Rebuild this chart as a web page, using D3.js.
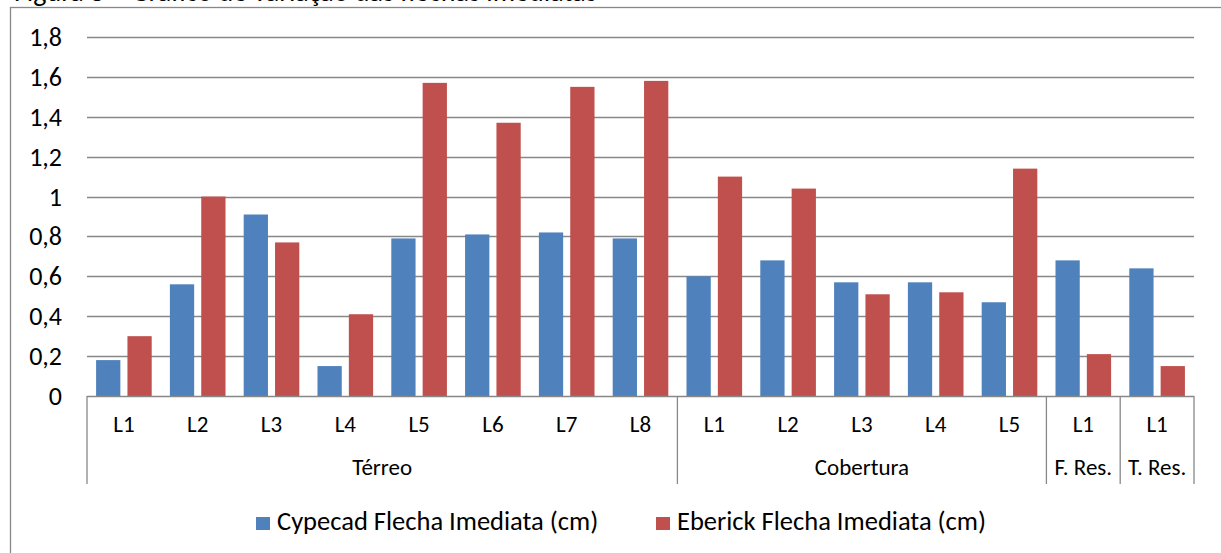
<!DOCTYPE html>
<html>
<head>
<meta charset="utf-8">
<script src="https://cdn.jsdelivr.net/npm/d3@7"></script>
<style>
  body { margin: 0; background: #fff; overflow: hidden; }
  svg text { font-family: Calibri, Carlito, Lato, sans-serif; fill: #000; }
</style>
</head>
<body>
<svg width="1221" height="553"></svg>
<script>
// Data
const labels = ["L1","L2","L3","L4","L5","L6","L7","L8","L1","L2","L3","L4","L5","L1","L1"];
const groups = [
  {name: "Térreo", count: 8},
  {name: "Cobertura", count: 5},
  {name: "F. Res.", count: 1},
  {name: "T. Res.", count: 1}
];
const cypecad = [0.18,0.56,0.91,0.15,0.79,0.81,0.82,0.79,0.60,0.68,0.57,0.57,0.47,0.68,0.64];
const eberick = [0.30,1.00,0.77,0.41,1.57,1.37,1.55,1.58,1.10,1.04,0.51,0.52,1.14,0.21,0.15];
const seriesNames = ["Cypecad Flecha Imediata (cm)", "Eberick Flecha Imediata (cm)"];
const colors = ["#4F81BD", "#C0504D"];
const yTicks = [0,0.2,0.4,0.6,0.8,1,1.2,1.4,1.6,1.8];

const svg = d3.select("svg");
const gridColor = "#888888";

// caption cut off at the top of the picture
svg.append("text")
  .attr("x", 14).attr("y", 1)
  .style("font-size", "28px")
  .text("Figura 8 – Gráfico de variação das flechas imediatas");

// chart frame (runs off the right and bottom edge)
svg.append("rect")
  .attr("x", 10.5).attr("y", 7.5)
  .attr("width", 1400).attr("height", 700)
  .attr("fill", "none").attr("stroke", gridColor).attr("stroke-width", 1.3);

const x = d3.scaleBand()
  .domain(d3.range(labels.length))
  .range([87, 1194])
  .padding(0);

const x1 = d3.scaleBand()
  .domain([0, 1])
  .range([0, x.bandwidth()])
  .paddingInner(0.226)
  .paddingOuter(0.29);

const y = d3.scaleLinear().domain([0, 1.8]).range([396, 37]);

const fmt = v => String(+v.toFixed(1)).replace(".", ",");

// gridlines
svg.append("g").selectAll("line")
  .data(yTicks.filter(t => t > 0))
  .enter().append("line")
  .attr("x1", 87).attr("x2", 1194)
  .attr("y1", d => Math.round(y(d)) + 0.5).attr("y2", d => Math.round(y(d)) + 0.5)
  .attr("stroke", gridColor).attr("stroke-width", 1.3);

// y tick labels
svg.append("g").selectAll("text")
  .data(yTicks)
  .enter().append("text")
  .attr("x", 62).attr("y", d => y(d) + 9)
  .attr("text-anchor", "end")
  .style("font-size", "26px")
  .text(fmt);

// bars
const seriesData = [cypecad, eberick];
seriesData.forEach((vals, s) => {
  svg.append("g").selectAll("rect")
    .data(vals)
    .enter().append("rect")
    .attr("x", (d, i) => x(i) + x1(s))
    .attr("width", x1.bandwidth())
    .attr("y", d => y(d))
    .attr("height", d => y(0) - y(d))
    .attr("fill", colors[s]);
});

// category axis line
svg.append("line")
  .attr("x1", 87).attr("x2", 1194)
  .attr("y1", 396.5).attr("y2", 396.5)
  .attr("stroke", gridColor).attr("stroke-width", 1.3);

// category labels
svg.append("g").selectAll("text")
  .data(labels)
  .enter().append("text")
  .attr("x", (d, i) => x(i) + x.bandwidth() / 2)
  .attr("y", 432)
  .attr("text-anchor", "middle")
  .style("font-size", "23px")
  .text(d => d);

// group labels and separators
let start = 0;
const bounds = [0];
groups.forEach(g => {
  const x0 = x(start);
  const xe = start + g.count < labels.length ? x(start + g.count) : x.range()[1];
  svg.append("text")
    .attr("x", (x0 + xe) / 2)
    .attr("y", 475)
    .attr("text-anchor", "middle")
    .style("font-size", "23px")
    .text(g.name);
  start += g.count;
  bounds.push(start);
});
svg.append("g").selectAll("line")
  .data(bounds)
  .enter().append("line")
  .attr("x1", d => (d < labels.length ? x(d) : x.range()[1]))
  .attr("x2", d => (d < labels.length ? x(d) : x.range()[1]))
  .attr("y1", 396).attr("y2", 484)
  .attr("stroke", gridColor).attr("stroke-width", 1.3);

// legend
const legendX = [256, 656];
seriesNames.forEach((name, s) => {
  svg.append("rect")
    .attr("x", legendX[s]).attr("y", 517)
    .attr("width", 14).attr("height", 13)
    .attr("fill", colors[s]);
  svg.append("text")
    .attr("x", legendX[s] + 21).attr("y", 530)
    .style("font-size", "26.5px")
    .text(name);
});
</script>
</body>
</html>
